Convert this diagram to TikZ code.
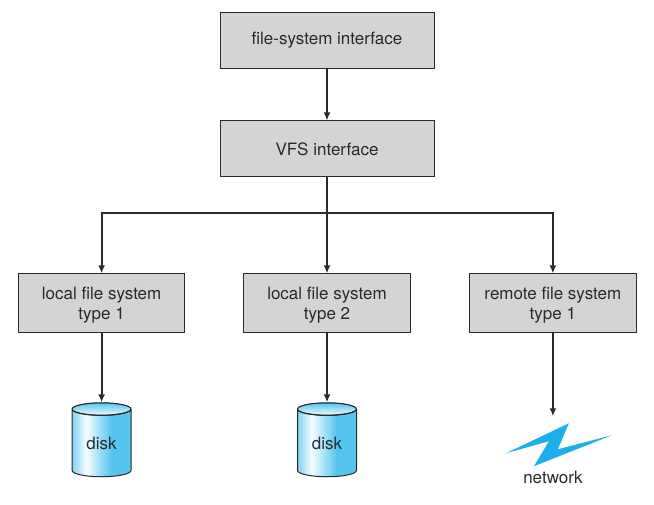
\documentclass[tikz,border=0pt]{standalone}
\usepackage{fontspec}
\setmainfont{TeX Gyre Heros}
\usetikzlibrary{arrows.meta,positioning,shapes.geometric}
\definecolor{boxgray}{HTML}{D4D4D4}
\definecolor{linedark}{HTML}{2A2A2A}
\definecolor{diskblue}{HTML}{55C5F0}
\definecolor{boltblue}{HTML}{1CB0EA}
\pgfdeclarehorizontalshading{diskbody}{100bp}{color(0bp)=(diskblue!75); color(25bp)=(diskblue!75); color(37bp)=(diskblue!5); color(58bp)=(diskblue); color(100bp)=(diskblue)}
\newcommand{\lift}{\rule{0pt}{17pt}}

\begin{document}
\begin{tikzpicture}[
  x=1pt, y=1pt,
  box/.style={draw=linedark, fill=boxgray, line width=0.9pt, align=center, text=linedark, font=\fontsize{17}{20}\selectfont},
  topbox/.style={box, minimum width=214pt, minimum height=56pt},
  fsbox/.style={box, minimum width=166.5pt, minimum height=59pt},
  arrow/.style={-{Latex[length=8pt,width=7pt]}, line width=2pt, draw=linedark},
  diskbox/.style={shape=cylinder, shape border rotate=90, aspect=0.42, draw=linedark, line width=1pt, inner sep=0pt, minimum width=59pt, minimum height=74pt, text=linedark, font=\fontsize{17}{20}\selectfont,
    path picture={
      \shade[shading=diskbody] (path picture bounding box.south west) rectangle (path picture bounding box.north east);
      \path (path picture bounding box.north) ++(0,-6.2pt) coordinate (diskcap);
      \shade[draw=linedark, line width=1pt, top color=diskblue, bottom color=diskblue!10] (diskcap) ellipse (29.5pt and 6.2pt);
    }},
  netlabel/.style={text=linedark, font=\fontsize{17}{20}\selectfont}
]
\useasboundingbox (0,0) rectangle (654,-504);

\node[topbox] (fsi) at (327,-40) {file-system interface};
\node[topbox, below=52pt of fsi] (vfs) {VFS interface};
\node[fsbox, below=96pt of vfs] (local2) {\lift local file system\\type 2};
\node[fsbox, left=58pt of local2] (local1) {\lift local file system\\type 1};
\node[fsbox, right=58.5pt of local2] (remote) {\lift remote file system\\type 1};

\node[diskbox, below=69pt of local1] (disk1) {disk};
\node[diskbox, below=69pt of local2] (disk2) {disk};
\coordinate[below=83pt of remote] (bolt);
\node[netlabel, below=51pt of bolt] (net) {network};

\draw[arrow] (fsi) -- (vfs);
\coordinate[below=36pt of vfs] (bus);
\draw[arrow] (vfs) -- (local2);
\draw[arrow] (bus) -| (local1);
\draw[arrow] (bus) -| (remote);
\draw[arrow] (local1) -- (disk1);
\draw[arrow] (local2) -- (disk2);
\draw[arrow] (remote) -- (bolt);

% lightning bolt
\fill[boltblue] ([shift={(-47,-37)}]bolt) -- ([shift={(16,-7)}]bolt) -- ([shift={(5,-33)}]bolt)
  -- ([shift={(59,-19)}]bolt) -- ([shift={(-19,-50)}]bolt) -- ([shift={(-4,-25)}]bolt) -- cycle;
\end{tikzpicture}
\end{document}
